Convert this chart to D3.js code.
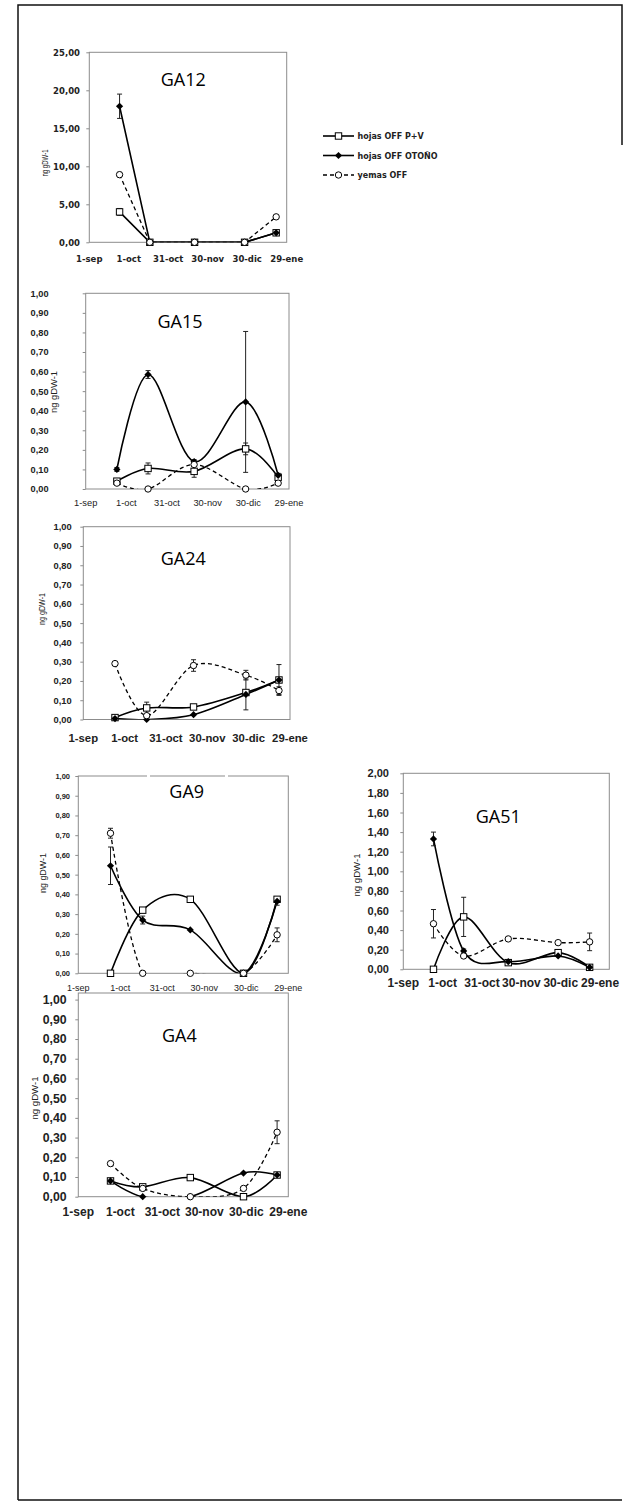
<!DOCTYPE html>
<html><head><meta charset="utf-8">
<script src="https://cdn.jsdelivr.net/npm/d3@7"></script>
<style>body{margin:0;background:#fff}svg{display:block}</style>
</head><body>
<script>
// ---------- DATA ----------
const sampleDates = ["2012-09-24","2012-10-17","2012-11-20","2012-12-28","2013-01-21"];
const xTickDates  = ["2012-09-01","2012-10-01","2012-10-31","2012-11-30","2012-12-30","2013-01-29"];
const xTickLabels = ["1-sep","1-oct","31-oct","30-nov","30-dic","29-ene"];
const seriesNames = ["hojas OFF P+V","hojas OFF OTOÑO","yemas OFF"];
const panelNames  = ["GA12","GA15","GA24","GA9","GA51","GA4"];
const yAxisMax    = [25, 1, 1, 1, 2, 1];
const yAxisStep   = [5, 0.1, 0.1, 0.1, 0.2, 0.1];
const yTitle = "ng gDW-1";

const ga12_pv = [4.0, 0, 0, 0, 1.25],       ga12_pv_err = [0.45, 0, 0, 0, 0];
const ga12_ot = [17.9, 0, 0, 0, 1.25],      ga12_ot_err = [1.6, 0, 0, 0, 0];
const ga12_ye = [8.9, 0, 0, 0, 3.35],       ga12_ye_err = [0.3, 0, 0, 0, 0];

const ga15_pv = [0.04, 0.105, 0.09, 0.205, 0.06], ga15_pv_err = [0, 0.028, 0.03, 0.03, 0];
const ga15_ot = [0.10, 0.585, 0.14, 0.445, 0.07], ga15_ot_err = [0.01, 0.02, 0.01, 0.36, 0.01];
const ga15_ye = [0.03, 0.0, 0.125, 0.0, 0.03],    ga15_ye_err = [0, 0, 0, 0, 0];

const ga24_pv = [0.01, 0.06, 0.065, 0.14, 0.205], ga24_pv_err = [0, 0.03, 0, 0, 0];
const ga24_ot = [0.005, 0.0, 0.025, 0.13, 0.205], ga24_ot_err = [0, 0, 0, 0.08, 0.08];
const ga24_ye = [0.29, 0.02, 0.28, 0.23, 0.15],   ga24_ye_err = [0, 0, 0.03, 0.025, 0.02];

const ga9_pv = [0, 0.32, 0.375, 0, 0.375],        ga9_pv_err = [0, 0, 0, 0, 0];
const ga9_ot = [0.545, 0.27, 0.22, 0, 0.365],     ga9_ot_err = [0.095, 0.02, 0, 0, 0.02];
const ga9_ye = [0.71, 0, 0, 0, 0.195],            ga9_ye_err = [0.025, 0, 0, 0, 0.035];

const ga51_pv = [0, 0.535, 0.068, 0.17, 0.02],    ga51_pv_err = [0, 0.2, 0, 0.03, 0];
const ga51_ot = [1.33, 0.187, 0.078, 0.136, 0.02],ga51_ot_err = [0.07, 0.02, 0, 0, 0];
const ga51_ye = [0.465, 0.136, 0.31, 0.272, 0.28],ga51_ye_err = [0.145, 0, 0, 0, 0.09];

const ga4_pv = [0.08, 0.05, 0.097, 0, 0.11],      ga4_pv_err = [0, 0, 0, 0, 0];
const ga4_ot = [0.08, 0, 0, 0.12, 0.11],          ga4_ot_err = [0, 0, 0, 0, 0];
const ga4_ye = [0.168, 0.042, 0, 0.042, 0.327],   ga4_ye_err = [0, 0, 0, 0, 0.058];

const panelSeries = {
  GA12: [[ga12_pv, ga12_pv_err], [ga12_ot, ga12_ot_err], [ga12_ye, ga12_ye_err]],
  GA15: [[ga15_pv, ga15_pv_err], [ga15_ot, ga15_ot_err], [ga15_ye, ga15_ye_err]],
  GA24: [[ga24_pv, ga24_pv_err], [ga24_ot, ga24_ot_err], [ga24_ye, ga24_ye_err]],
  GA9:  [[ga9_pv, ga9_pv_err],   [ga9_ot, ga9_ot_err],   [ga9_ye, ga9_ye_err]],
  GA51: [[ga51_pv, ga51_pv_err], [ga51_ot, ga51_ot_err], [ga51_ye, ga51_ye_err]],
  GA4:  [[ga4_pv, ga4_pv_err],   [ga4_ot, ga4_ot_err],   [ga4_ye, ga4_ye_err]]
};

// ---------- LAYOUT ----------
const AR = "'Liberation Sans', Arial, sans-serif";
const DV = "'DejaVu Sans', sans-serif";
const layout = {
  GA12: {box:[89.3,52.3,286.7,242.3], xEnd:"2013-01-29", linear:true,
         yLabRight:80, yFont:[DV,8.5,"bold"], xFont:[DV,8.5,"bold"], xLabY:262,
         yt:{x:47.5, cy:163, len:27}, title:[183.3,86]},
  GA15: {box:[85.7,293.3,289,489], xEnd:"2013-01-29",
         yLabRight:48.5, yFont:[AR,9.2,"bold"], xFont:[AR,9.3,"normal"], xLabY:506,
         yt:{x:56.5, cy:392, len:42}, title:[180,328.3]},
  GA24: {box:[83.3,526.7,290,719.5], xEnd:"2013-01-29",
         yLabRight:71.7, yFont:[AR,9.3,"bold"], xFont:[AR,11.3,"bold"], xLabY:741.5,
         yt:{x:44.5, cy:609, len:32}, title:[183.3,565]},
  GA9:  {box:[78.3,776,288.3,973.3], xEnd:"2013-01-29",
         yLabRight:70, yFont:[AR,7.5,"bold"], xFont:[AR,9,"normal"], xLabY:991,
         yt:{x:45.5, cy:873, len:40}, title:[186.7,798.3], gaps:[[147,150],[225,228]]},
  GA51: {box:[403.3,773.3,609.3,969.3], xEnd:"2013-02-05",
         yLabRight:389, yFont:[AR,11,"bold"], xFont:[AR,12,"bold"], xLabY:987,
         yt:{x:359.5, cy:875, len:43}, title:[498.3,823.3]},
  GA4:  {box:[78.3,999.6,288.3,1196.7], boxTop:993, xEnd:"2013-01-29",
         yLabRight:66.7, yFont:[AR,12.3,"bold"], xFont:[AR,12,"bold"], xLabY:1216,
         yt:{x:38, cy:1098, len:43}, title:[179.3,1041.7]}
};

const parse = d3.utcParse("%Y-%m-%d");
const fmt = d3.formatLocale({decimal:",", thousands:".", grouping:[3], currency:["","€"]}).format(".2f");

const svg = d3.select("body").append("svg").attr("width", 624).attr("height", 1508);

// outer frame
const frame = d3.path();
frame.moveTo(18, 1500); frame.lineTo(18, 5); frame.lineTo(622, 5); frame.lineTo(622, 145);
svg.append("path").attr("d", frame.toString()).attr("fill","none").attr("stroke","#111").attr("stroke-width",1.5);
svg.append("line").attr("x1",18).attr("x2",622).attr("y1",1500).attr("y2",1500).attr("stroke","#111").attr("stroke-width",1.5);

const defs = svg.append("defs");

function marker(g, kind, cx, cy) {
  if (kind === 0) {
    g.append("rect").attr("x", cx-3.2).attr("y", cy-3.2).attr("width", 6.4).attr("height", 6.4)
      .attr("fill","#fff").attr("stroke","#000").attr("stroke-width",1);
  } else if (kind === 1) {
    const s = 3.6;
    g.append("path").attr("d", `M${cx},${cy-s}L${cx+s},${cy}L${cx},${cy+s}L${cx-s},${cy}Z`).attr("fill","#000");
  } else {
    g.append("circle").attr("cx", cx).attr("cy", cy).attr("r", 3.2)
      .attr("fill","#fff").attr("stroke","#000").attr("stroke-width",1);
  }
}

panelNames.forEach((name, pi) => {
  const L = layout[name];
  const [x0, y0, x1, y1] = L.box;
  const ymax = yAxisMax[pi], step = yAxisStep[pi];
  const x = d3.scaleUtc().domain([parse(xTickDates[0]), parse(L.xEnd)]).range([x0, x1]);
  const y = d3.scaleLinear().domain([0, ymax]).range([y1, y0]);
  const g = svg.append("g");
  const bt = L.boxTop ?? y0;

  // plot box
  g.append("rect").attr("x", x0).attr("y", bt).attr("width", x1-x0).attr("height", y1-bt)
    .attr("fill","none").attr("stroke","#8c8c8c").attr("stroke-width",1);
  if (L.gaps) L.gaps.forEach(([a,b]) => g.append("rect").attr("x",a).attr("y",bt-1.5).attr("width",b-a).attr("height",3).attr("fill","#fff"));

  // y axis
  const n = Math.round(ymax/step);
  const yTicks = d3.range(0, n+1).map(i => i*step);
  const ax = g.append("g").attr("transform", `translate(${x0},0)`)
    .call(d3.axisLeft(y).tickValues(yTicks).tickFormat(fmt).tickSize(3).tickPadding(x0 - 3 - L.yLabRight));
  ax.select(".domain").remove();
  ax.selectAll(".tick line").attr("stroke","#8c8c8c");
  ax.selectAll(".tick text").attr("font-family", L.yFont[0]).attr("font-size", L.yFont[1])
    .attr("font-weight", L.yFont[2]).attr("fill","#222");

  // x labels
  g.selectAll("text.xl").data(xTickDates).join("text").attr("class","xl")
    .attr("x", d => x(parse(d))).attr("y", L.xLabY).attr("text-anchor","middle")
    .attr("font-family", L.xFont[0]).attr("font-size", L.xFont[1]).attr("font-weight", L.xFont[2])
    .attr("fill","#222").text((d,i) => xTickLabels[i]);

  // y title
  g.append("text").attr("transform", `translate(${L.yt.x},${L.yt.cy}) rotate(-90)`)
    .attr("text-anchor","middle").attr("font-family", AR).attr("font-size", 8.5)
    .attr("textLength", L.yt.len).attr("lengthAdjust","spacingAndGlyphs")
    .attr("fill","#222").text(yTitle);

  // title
  g.append("text").attr("x", L.title[0]).attr("y", L.title[1]).attr("text-anchor","middle")
    .attr("font-family","'Open Sans', sans-serif").attr("font-size",18).attr("fill","#000").text(name);

  // clip
  const cid = "clip-" + name;
  defs.append("clipPath").attr("id", cid).append("rect")
    .attr("x", x0).attr("y", bt - 2).attr("width", x1-x0).attr("height", y1 - bt + 2);

  const curve = L.linear ? d3.curveLinear : d3.curveCardinal.tension(0);
  const order = [2, 0, 1];
  order.forEach(si => {
    const [vals, errs] = panelSeries[name][si];
    const pts = vals.map((v, i) => ({d: parse(sampleDates[i]), v, e: errs[i]}));
    const line = d3.line().defined(p => p.v != null).x(p => x(p.d)).y(p => y(p.v)).curve(curve);
    g.append("path").attr("d", line(pts)).attr("clip-path", `url(#${cid})`)
      .attr("fill","none").attr("stroke","#000").attr("stroke-width", si === 2 ? 1.3 : 1.6)
      .attr("stroke-dasharray", si === 2 ? "4,3" : null);
    pts.forEach(p => {
      if (p.v == null) return;
      if (p.e > 0) {
        const cx = x(p.d), ya = y(p.v + p.e), yb = y(Math.max(0, p.v - p.e));
        g.append("line").attr("x1",cx).attr("x2",cx).attr("y1",ya).attr("y2",yb).attr("stroke","#222").attr("stroke-width",1);
        [ya, yb].forEach(yy => g.append("line").attr("x1",cx-2.5).attr("x2",cx+2.5).attr("y1",yy).attr("y2",yy).attr("stroke","#222").attr("stroke-width",1));
      }
    });
  });
  [0, 1, 2].forEach(si => {
    const [vals] = panelSeries[name][si];
    vals.forEach((v, i) => { if (v != null) marker(g, si, x(parse(sampleDates[i])), y(v)); });
  });
});

// legend
const legY = [136, 155.5, 175];
const lg = svg.append("g");
seriesNames.forEach((s, i) => {
  lg.append("line").attr("x1", 323).attr("x2", 354).attr("y1", legY[i]).attr("y2", legY[i])
    .attr("stroke","#000").attr("stroke-width", i === 2 ? 1.3 : 1.6).attr("stroke-dasharray", i === 2 ? "4,3" : null);
  marker(lg, i, 338.5, legY[i]);
  lg.append("text").attr("x", 357.5).attr("y", legY[i] + 3).attr("font-family", DV).attr("font-size", 8)
    .attr("font-weight","bold").attr("fill","#222").text(s);
});
</script>
</body></html>
